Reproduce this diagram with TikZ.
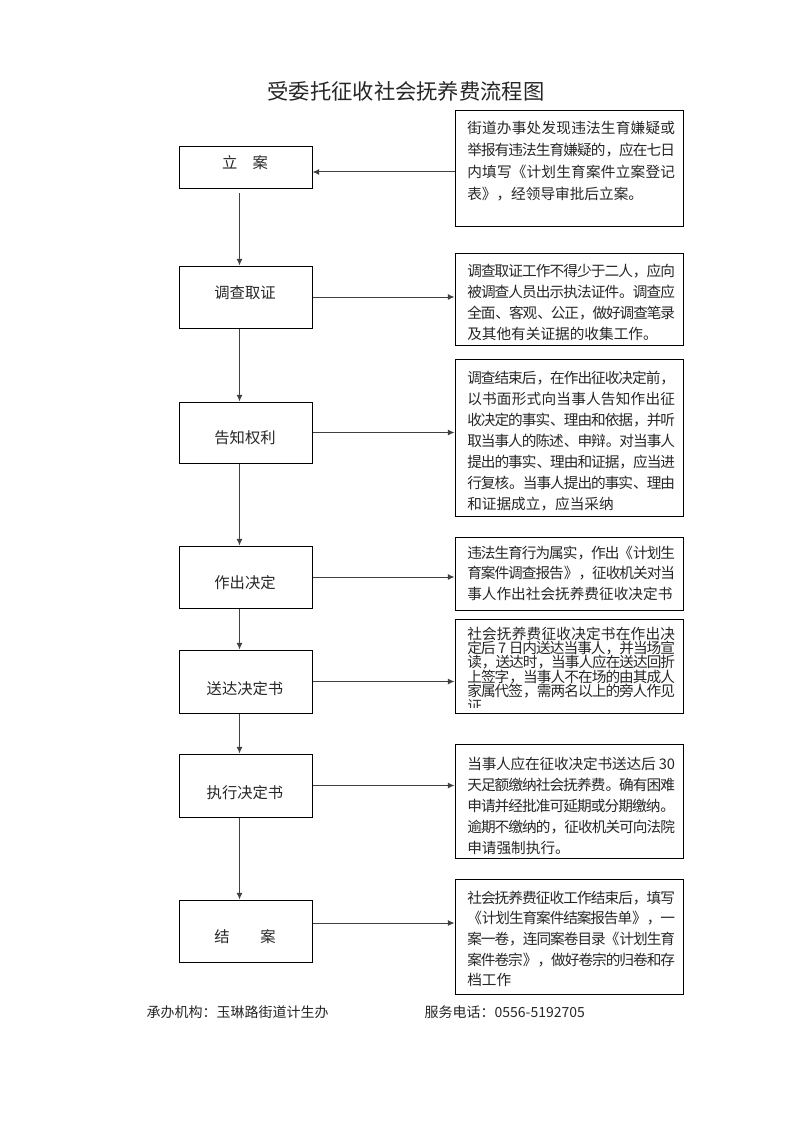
\documentclass[tikz,border=0pt]{standalone}
\usepackage{fontspec}
\setmainfont{Noto Sans CJK SC}
\usetikzlibrary{fit,arrows.meta}
\XeTeXlinebreaklocale "zh"
\XeTeXlinebreakskip=0pt plus 1pt minus 1pt

\begin{document}
\begin{tikzpicture}[x=0.7507pt,y=-0.7507pt,
  box/.style={draw,line width=0.75pt,inner sep=0pt},
  flow/.style={draw=black!75,line width=0.75pt,-{Latex[length=5pt,width=4.5pt]}},
  stepname/.style={font=\fontsize{11.5}{14}\selectfont,text=black!85,inner sep=0pt},
  notetext/.style={anchor=north west,inner sep=0pt,text width=156pt,align=justify,
    font=\fontsize{11}{15.75}\selectfont,text=black!85}]
\useasboundingbox (0,0) rectangle (793,1122);

% Title
\node[font=\fontsize{16}{18}\selectfont,text=black!85] (title) at (406,91) {受委托征收社会抚养费流程图};

% Steps on the left
\node[box,fit={(179,146) (312,188)}] (lian) {};
\node[box,fit={(179,266) (312,328)}] (diaocha) {};
\node[box,fit={(179,402) (312,463)}] (gaozhi) {};
\node[box,fit={(179,546) (312,608)}] (zuochu) {};
\node[box,fit={(179,650) (312,713)}] (songda) {};
\node[box,fit={(179,754) (312,817)}] (zhixing) {};
\node[box,fit={(179,900) (312,962)}] (jiean) {};

\node[stepname] (lianT) at (245,163) {立　案};
\node[stepname] (diaochaT) at (245,293) {调查取证};
\node[stepname] (gaozhiT) at (245,438) {告知权利};
\node[stepname] (zuochuT) at (245,583) {作出决定};
\node[stepname] (songdaT) at (245,689) {送达决定书};
\node[stepname] (zhixingT) at (245,793) {执行决定书};
\node[stepname] (jieanT) at (245,937) {结　　案};

% Notes on the right
\node[box,fit={(455,110) (683,226)}] (n1) {};
\node[box,fit={(455,253) (683,345)}] (n2) {};
\node[box,fit={(455,359) (683,516)}] (n3) {};
\node[box,fit={(455,537) (683,610)}] (n4) {};
\node[box,fit={(455,619) (683,713)}] (n5) {};
\node[box,fit={(455,744) (683,858)}] (n6) {};
\node[box,fit={(455,879) (683,994)}] (n7) {};

\node[notetext,font=\fontsize{11}{16.5}\selectfont] (n1T) at (467,120.5) {街道办事处发现违法生育嫌疑或\linebreak
举报有违法生育嫌疑的，应在七日\linebreak
内填写《计划生育案件立案登记\linebreak
表》，经领导审批后立案。};
\node[notetext] (n2T) at (467,263.5) {调查取证工作不得少于二人，应向\linebreak
被调查人员出示执法证件。调查应\linebreak
全面、客观、公正，做好调查笔录\linebreak
及其他有关证据的收集工作。};
\node[notetext] (n3T) at (467,370.5) {调查结束后，在作出征收决定前，\linebreak
以书面形式向当事人告知作出征\linebreak
收决定的事实、理由和依据，并听\linebreak
取当事人的陈述、申辩。对当事人\linebreak
提出的事实、理由和证据，应当进\linebreak
行复核。当事人提出的事实、理由\linebreak
和证据成立，应当采纳};
\node[notetext,font=\fontsize{11}{15.4}\selectfont] (n4T) at (467,545.5) {违法生育行为属实，作出《计划生\linebreak
育案件调查报告》，征收机关对当\linebreak
事人作出社会抚养费征收决定书};
\begin{scope}
\clip (455,619) rectangle (683,707);
\node[notetext,font={\fontsize{11}{10.8}\selectfont\lineskiplimit=-5pt}] (n5T) at (467,626.5) {社会抚养费征收决定书在作出决\linebreak
定后 7 日内送达当事人，并当场宣\linebreak
读，送达时，当事人应在送达回折\linebreak
上签字，当事人不在场的由其成人\linebreak
家属代签，需两名以上的旁人作见\linebreak
证};
\end{scope}
\node[notetext] (n6T) at (467,756.5) {当事人应在征收决定书送达后 30\linebreak
天足额缴纳社会抚养费。确有困难\linebreak
申请并经批准可延期或分期缴纳。\linebreak
逾期不缴纳的，征收机关可向法院\linebreak
申请强制执行。};
\node[notetext,font=\fontsize{11}{15.5}\selectfont] (n7T) at (467,890.5) {社会抚养费征收工作结束后，填写\linebreak
《计划生育案件结案报告单》，一\linebreak
案一卷，连同案卷目录《计划生育\linebreak
案件卷宗》，做好卷宗的归卷和存\linebreak
档工作};

% Arrows down the steps
\coordinate (spine) at (239.5,0);
\draw[flow,shorten <=3.75pt] (lian.south -| spine) -- (diaocha.north -| spine);
\draw[flow] (diaocha.south -| spine) -- (gaozhi.north -| spine);
\draw[flow] (gaozhi.south -| spine) -- (zuochu.north -| spine);
\draw[flow] (zuochu.south -| spine) -- (songda.north -| spine);
\draw[flow] (songda.south -| spine) -- (zhixing.north -| spine);
\draw[flow] (zhixing.south -| spine) -- (jiean.north -| spine);

% Arrows to and from the notes
\coordinate (lianIn) at ([yshift=-3.75pt]lian.east);
\coordinate (jieanOut) at ([yshift=6pt]jiean.east);
\draw[flow] (lianIn -| n1.west) -- (lianIn);
\draw[flow] (diaocha.east) -- (diaocha.east -| n2.west);
\draw[flow] (gaozhi.east) -- (gaozhi.east -| n3.west);
\draw[flow] (zuochu.east) -- (zuochu.east -| n4.west);
\draw[flow] (songda.east) -- (songda.east -| n5.west);
\draw[flow] (zhixing.east) -- (zhixing.east -| n6.west);
\draw[flow] (jieanOut) -- (jieanOut -| n7.west);

% Footer
\node[anchor=west,font=\fontsize{10.5}{12}\selectfont,text=black!85] (org) at (142,1012) {承办机构：玉琳路街道计生办};
\node[anchor=west,font=\fontsize{10.5}{12}\selectfont,text=black!85] (tel) at (420,1012) {服务电话：0556-5192705};
\end{tikzpicture}
\end{document}
